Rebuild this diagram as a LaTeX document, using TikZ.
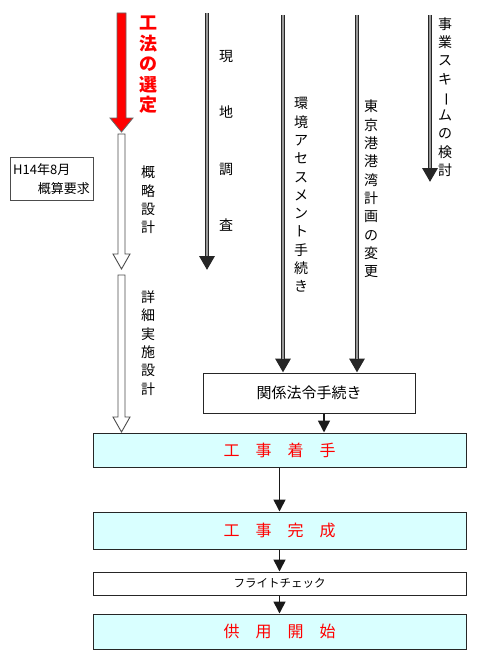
\documentclass[tikz,border=0pt]{standalone}
\usepackage{fontspec}
\usepackage{graphicx}
\setmainfont{Noto Sans CJK JP}
\usetikzlibrary{arrows.meta}
\definecolor{cyanbox}{RGB}{217,255,255}
\definecolor{redtxt}{RGB}{255,0,0}
\newcommand{\vbar}{\rotatebox[origin=c]{-90}{ー}}
\begin{document}
\begin{tikzpicture}[x=1pt,y=-1pt,
  vtext/.style={align=center, inner sep=0pt, font=\fontsize{14}{18.3}\selectfont},
  flowbox/.style={draw=black!85, line width=1pt, inner sep=0pt, minimum width=373pt},
  cyanflow/.style={flowbox, fill=cyanbox, text=redtxt, font=\fontsize{16}{18}\selectfont},
  dblarrow/.style={line width=3.2pt, draw=black!85, -{Triangle[width=15pt,length=14pt]}},
  dblinner/.style={line width=1.2pt, draw=black!40, shorten >=14pt},
  arr/.style={line width=1.6pt, draw=black!90, -{Triangle[width=12pt,length=12pt]}},
  hollow/.style={fill=white, draw=black!70, line width=0.9pt},
  redarrow/.style={fill=red, draw=black!60, line width=0.8pt}]
\useasboundingbox (0,0) rectangle (480,661);

% red arrow (工法の選定)
\coordinate (ra) at (121.5,13);
\draw[redarrow] (117,13) -- (126,13) -- (126,118) -- (133,118) -- (121.5,132) -- (110,118) -- (117,118) -- cycle;
\node[vtext, text=redtxt, font=\fontsize{18}{20.5}\selectfont\bfseries] (t0) at (148,65) {工\\法\\の\\選\\定};

% hollow arrows
\draw[hollow] (118,134) -- (125,134) -- (125,254) -- (130,254) -- (121.5,269) -- (113,254) -- (118,254) -- cycle;
\draw[hollow] (118,275) -- (125,275) -- (125,417) -- (130,417) -- (121.5,432) -- (113,417) -- (118,417) -- cycle;
\node[vtext] (t1) at (148,200) {概\\略\\設\\計};
\node[vtext] (t2) at (148,343) {詳\\細\\実\\施\\設\\計};

% H14 box
\node[draw=black!70, line width=0.8pt, minimum width=83pt, minimum height=43pt, inner sep=0pt] (h14) at (51.5,178.5) {};
\node[anchor=west, inner sep=0pt, font=\fontsize{13}{14}\selectfont] (h14a) at (13,170) {H14年8月};
\node[anchor=east, inner sep=0pt, font=\fontsize{13}{14}\selectfont] (h14b) at (90,189) {概算要求};

% 現地調査
\coordinate (a1s) at (207,13);
\coordinate (a1e) at (207,270);
\draw[dblarrow] (a1s) -- (a1e);
\draw[dblinner] (a1s) -- (a1e);
\node[vtext, font=\fontsize{14}{56.5}\selectfont] (t3) at (226,141) {現\\地\\調\\査};

% relation box
\node[flowbox, minimum width=212pt, minimum height=40pt, font=\fontsize{15}{18}\selectfont] (rel) at (309,393) {関係法令手続き};

% 環境アセスメント手続き
\coordinate (a2s) at (283,15);
\draw[dblarrow] (a2s) -- (a2s |- rel.north);
\draw[dblinner] (a2s) -- (a2s |- rel.north);
\node[vtext] (t4) at (301,195) {環\\境\\ア\\セ\\ス\\メ\\ン\\ト\\手\\続\\き};

% 東京港港湾計画の変更
\coordinate (a3s) at (357,15);
\draw[dblarrow] (a3s) -- (a3s |- rel.north);
\draw[dblinner] (a3s) -- (a3s |- rel.north);
\node[vtext] (t5) at (371,189) {東\\京\\港\\港\\湾\\計\\画\\の\\変\\更};

% 事業スキームの検討
\coordinate (a4s) at (430,15);
\coordinate (a4e) at (430,182);
\draw[dblarrow] (a4s) -- (a4e);
\draw[dblinner] (a4s) -- (a4e);
\node[vtext] (t6) at (445,97) {事\\業\\ス\\キ\\\vbar\\ム\\の\\検\\討};

% flow boxes
\node[cyanflow, minimum height=34pt] (b1) at (279.5,450) {工\hspace{1em}事\hspace{1em}着\hspace{1em}手};
\node[cyanflow, minimum height=37pt] (b2) at (279.5,530.5) {工\hspace{1em}事\hspace{1em}完\hspace{1em}成};
\node[flowbox, minimum height=23pt, font=\fontsize{11.5}{13}\selectfont] (b3) at (279.5,583.5) {フライトチェック};
\node[cyanflow, minimum height=35pt] (b4) at (279.5,631.5) {供\hspace{1em}用\hspace{1em}開\hspace{1em}始};

\coordinate (c1) at (324,0);
\draw[arr] (c1 |- rel.south) -- (c1 |- b1.north);
\draw[arr] (b1.south) -- (b2.north);
\draw[arr] (b2.south) -- (b3.north);
\draw[arr] (b3.south) -- (b4.north);
\end{tikzpicture}
\end{document}
